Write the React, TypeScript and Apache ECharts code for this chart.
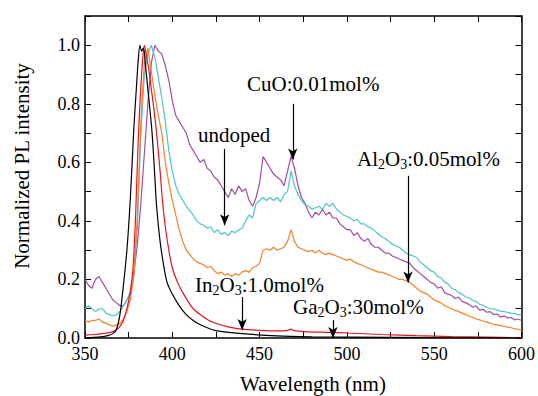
import { useEffect, useRef } from "react";
import * as echarts from "echarts";

const FONT = "Liberation Serif";

// common wavelength grid (nm) for the noisy spectra
const wl = [
  350, 352, 354, 356, 358, 360, 362, 364, 366, 368, 370, 372, 374, 376, 378, 380, 382, 384, 386, 388, 390, 392, 394, 396, 398,
  400, 402, 404, 406, 408, 410, 412, 414, 416, 418, 420, 422, 424, 426, 428, 430, 432, 434, 436, 438, 440, 442, 444, 446, 448,
  450, 452, 454, 456, 458, 460, 462, 464, 466, 468, 470, 472, 474, 476, 478, 480, 482, 484, 486, 488, 490, 492, 494, 496, 498,
  500, 502, 504, 506, 508, 510, 512, 514, 516, 518, 520, 522, 524, 526, 528, 530, 532, 534, 536, 538, 540, 542, 544, 546, 548,
  550, 552, 554, 556, 558, 560, 562, 564, 566, 568, 570, 572, 574, 576, 578, 580, 582, 584, 586, 588, 590, 592, 594, 596, 598, 600,
];

// CuO:0.01mol% (purple)
const cuo = [
  0.2, 0.18, 0.17, 0.2, 0.21, 0.19, 0.17, 0.15, 0.13, 0.12, 0.11, 0.11, 0.13, 0.15, 0.22, 0.32, 0.46, 0.63, 0.8, 0.94, 1.0, 0.98, 0.97, 0.93, 0.88,
  0.81, 0.76, 0.74, 0.72, 0.7, 0.66, 0.64, 0.62, 0.6, 0.61, 0.58, 0.57, 0.55, 0.54, 0.52, 0.5, 0.48, 0.51, 0.49, 0.52, 0.5, 0.51, 0.47, 0.45, 0.48,
  0.53, 0.62, 0.6, 0.58, 0.56, 0.55, 0.54, 0.52, 0.57, 0.62, 0.58, 0.52, 0.48, 0.46, 0.43, 0.41, 0.43, 0.42, 0.44, 0.42, 0.43, 0.41, 0.41, 0.39, 0.38,
  0.37, 0.37, 0.35, 0.36, 0.34, 0.33, 0.34, 0.32, 0.31, 0.31, 0.3, 0.29, 0.29, 0.28, 0.275, 0.27, 0.265, 0.26, 0.255, 0.24, 0.23, 0.22, 0.21, 0.2, 0.19,
  0.185, 0.17, 0.175, 0.155, 0.15, 0.145, 0.135, 0.14, 0.125, 0.12, 0.115, 0.105, 0.11, 0.095, 0.098, 0.088, 0.09, 0.08, 0.082, 0.072, 0.075, 0.068, 0.07, 0.062, 0.065, 0.06,
];

// undoped (cyan)
const undoped = [
  0.1, 0.11, 0.1, 0.09, 0.1, 0.1, 0.085, 0.08, 0.075, 0.08, 0.09, 0.11, 0.13, 0.16, 0.22, 0.38, 0.7, 0.9, 0.97, 1.0, 0.96, 0.89, 0.82, 0.74, 0.64,
  0.57, 0.52, 0.49, 0.47, 0.45, 0.435, 0.42, 0.4, 0.39, 0.385, 0.375, 0.38, 0.36, 0.37, 0.355, 0.36, 0.35, 0.365, 0.36, 0.37, 0.375, 0.4, 0.42, 0.41, 0.46,
  0.47, 0.48, 0.47, 0.48, 0.47, 0.48, 0.465, 0.49, 0.5, 0.57, 0.52, 0.49, 0.47, 0.455, 0.45, 0.44, 0.445, 0.45, 0.44, 0.46, 0.45, 0.46, 0.44, 0.43, 0.42,
  0.415, 0.41, 0.4, 0.405, 0.39, 0.39, 0.38, 0.375, 0.365, 0.355, 0.345, 0.34, 0.33, 0.32, 0.315, 0.31, 0.3, 0.29, 0.285, 0.28, 0.275, 0.26, 0.25, 0.24, 0.23,
  0.225, 0.21, 0.205, 0.19, 0.185, 0.17, 0.165, 0.155, 0.15, 0.14, 0.138, 0.128, 0.125, 0.115, 0.112, 0.105, 0.1, 0.1, 0.095, 0.092, 0.09, 0.088, 0.085, 0.083, 0.08, 0.08,
];

// Al2O3:0.05mol% (orange)
const al2o3 = [
  0.06, 0.055, 0.06, 0.06, 0.065, 0.055, 0.05, 0.045, 0.04, 0.045, 0.05, 0.065, 0.09, 0.13, 0.21, 0.42, 0.74, 0.94, 0.99, 0.91, 0.83, 0.76, 0.7, 0.6, 0.53,
  0.47, 0.42, 0.37, 0.33, 0.3, 0.285, 0.27, 0.26, 0.255, 0.25, 0.24, 0.245, 0.23, 0.22, 0.225, 0.215, 0.22, 0.21, 0.22, 0.215, 0.225, 0.23, 0.225, 0.24, 0.245,
  0.255, 0.3, 0.305, 0.3, 0.31, 0.3, 0.305, 0.31, 0.33, 0.37, 0.33, 0.31, 0.305, 0.3, 0.295, 0.3, 0.29, 0.3, 0.29, 0.285, 0.29, 0.285, 0.28, 0.275, 0.27,
  0.265, 0.27, 0.26, 0.255, 0.25, 0.245, 0.24, 0.235, 0.23, 0.225, 0.225, 0.22, 0.215, 0.21, 0.205, 0.2, 0.2, 0.195, 0.19, 0.18, 0.17, 0.16, 0.155, 0.15, 0.14,
  0.13, 0.125, 0.12, 0.11, 0.105, 0.1, 0.095, 0.09, 0.085, 0.08, 0.075, 0.07, 0.065, 0.062, 0.058, 0.055, 0.05, 0.047, 0.045, 0.042, 0.04, 0.037, 0.035, 0.032, 0.03, 0.027,
];

// In2O3:1.0mol% (red)
const in2o3Wl = [350, 355, 360, 365, 368, 370, 372, 374, 376, 377.5, 379, 380.5, 382, 383, 384, 385, 386.5, 388, 389.5, 391, 393, 394.5, 396, 398, 400, 403, 406, 409, 412, 416, 421, 427, 432, 440, 450, 460, 466, 468, 470, 476, 490, 500, 520, 540, 560, 580, 600];
const in2o3 = [0.01, 0.012, 0.015, 0.02, 0.028, 0.04, 0.06, 0.1, 0.16, 0.24, 0.42, 0.68, 0.86, 0.95, 1.0, 0.97, 0.92, 0.85, 0.78, 0.7, 0.57, 0.46, 0.38, 0.3, 0.24, 0.19, 0.155, 0.125, 0.1, 0.08, 0.06, 0.046, 0.038, 0.03, 0.026, 0.024, 0.026, 0.03, 0.025, 0.022, 0.019, 0.017, 0.012, 0.008, 0.005, 0.003, 0.001];

// Ga2O3:30mol% (black)
const ga2o3Wl = [350, 355, 360, 363, 366, 368, 370, 372, 374, 376, 378, 379.5, 380.5, 381.5, 382.5, 383.5, 384.5, 386, 388, 389, 390, 391, 393, 395, 397, 400, 404, 408, 412, 416, 420, 425, 440, 460, 480, 500, 550, 600];
const ga2o3 = [0.0, 0.002, 0.005, 0.008, 0.015, 0.03, 0.08, 0.18, 0.3, 0.48, 0.72, 0.86, 0.95, 1.0, 0.98, 0.99, 0.94, 0.85, 0.73, 0.65, 0.55, 0.45, 0.33, 0.25, 0.19, 0.15, 0.11, 0.08, 0.06, 0.045, 0.035, 0.025, 0.015, 0.007, 0.004, 0.003, 0.001, 0.0];

// annotation arrows: [x, yFrom, yTo] in data units
const arrows = [
  [469, 0.8, 0.61],
  [430, 0.646, 0.385],
  [535, 0.554, 0.19],
  [440, 0.14, 0.027],
  [492, 0.061, 0.0],
];

const pairs = (xs: number[], ys: number[]) => xs.map((x, i) => [x, ys[i]]);

export default function App() {
  const ref = useRef<HTMLDivElement>(null);
  useEffect(() => {
    if (!ref.current) return;
    const chart = echarts.init(ref.current, undefined, { renderer: "svg" });
    const axisLine = { show: true, onZero: false, lineStyle: { color: "#000", width: 1.5 } };
    const axisTick = { show: true, inside: true, length: 6, lineStyle: { color: "#000", width: 1 } };
    const t = { fontFamily: FONT, fontSize: 18, color: "#000" };
    const n = { fontFamily: FONT, fontSize: 21, color: "#000", lineHeight: 24 };
    const s = { fontFamily: FONT, fontSize: 14, color: "#000", lineHeight: 2, verticalAlign: "bottom" };
    const annot = (x: number, y: number, text: string, extra: any = {}, align = "left") => ({
      type: "text",
      x,
      y,
      silent: true,
      ...extra,
      style: { text, fill: "#000", fontFamily: FONT, fontSize: 21, textAlign: align, textVerticalAlign: "middle", rich: { n, s } },
    });
    const line = (name: string, data: number[][], color: string, smooth: number | boolean = false, extra: any = {}) => ({
      name,
      type: "line",
      data,
      showSymbol: false,
      symbol: "none",
      smooth,
      silent: true,
      lineStyle: { color, width: 1.2 },
      itemStyle: { color },
      ...extra,
    });
    chart.setOption({
      animation: false,
      textStyle: { fontFamily: FONT },
      grid: { left: 85, right: 16, top: 16, bottom: 58 },
      xAxis: [
        {
          type: "value",
          min: 350,
          max: 600,
          interval: 25,
          position: "bottom",
          axisLine,
          axisTick,
          splitLine: { show: false },
          axisLabel: { ...t, margin: 7, formatter: (v: number) => (v % 50 === 0 ? String(v) : "") },
        },
        {
          type: "value",
          min: 350,
          max: 600,
          interval: 25,
          position: "top",
          axisLine,
          axisTick,
          splitLine: { show: false },
          axisLabel: { show: false },
        },
      ],
      yAxis: [
        {
          type: "value",
          min: 0,
          max: 1.1,
          interval: 0.1,
          position: "left",
          axisLine,
          axisTick,
          splitLine: { show: false },
          axisLabel: {
            ...t,
            margin: 5,
            formatter: (v: number) => (Math.round(v * 10) % 2 === 0 && v < 1.05 ? v.toFixed(1) : ""),
          },
        },
        {
          type: "value",
          min: 0,
          max: 1.1,
          interval: 0.1,
          position: "right",
          axisLine,
          axisTick,
          splitLine: { show: false },
          axisLabel: { show: false },
        },
      ],
      series: [
        line("CuO:0.01mol%", pairs(wl, cuo), "#a04fa6"),
        line("undoped", pairs(wl, undoped), "#4dc4cf"),
        line("Al2O3:0.05mol%", pairs(wl, al2o3), "#f5822a"),
        line("In2O3:1.0mol%", pairs(in2o3Wl, in2o3), "#e8141e", 0.3),
        line("Ga2O3:30mol%", pairs(ga2o3Wl, ga2o3), "#000000", 0.3, {
          markLine: {
            silent: true,
            animation: false,
            symbol: ["none", "arrow"],
            symbolSize: [7, 11],
            label: { show: false },
            lineStyle: { color: "#000", width: 1.2, type: "solid" },
            data: arrows.map(([x, y1, y2]) => [{ coord: [x, y1] }, { coord: [x, y2] }]),
          },
        }),
      ],
      graphic: [
        annot(247, 84, "{n|CuO:0.01mol%}"),
        annot(198, 135, "{n|undoped}"),
        annot(357, 159, "{n|Al}{s|2}{n|O}{s|3}{n|:0.05mol%}"),
        annot(195, 285, "{n|In}{s|2}{n|O}{s|3}{n|:1.0mol%}"),
        annot(293, 307, "{n|Ga}{s|2}{n|O}{s|3}{n|:30mol%}"),
        annot(313, 384, "{n|Wavelength (nm)}", {}, "center"),
        annot(22, 166, "{n|Normalized PL intensity}", { rotation: Math.PI / 2 }, "center"),
      ],
    });
    return () => chart.dispose();
  }, []);
  return <div ref={ref} style={{ width: 538, height: 396, position: "absolute", left: 0, top: 0 }} />;
}
